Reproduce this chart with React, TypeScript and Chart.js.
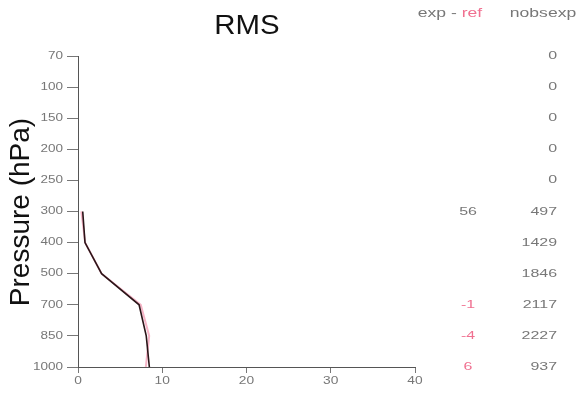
import React, { useEffect, useRef } from "react";
import { Chart, registerables } from "chart.js";

Chart.register(...registerables);

const levels = ["70", "100", "150", "200", "250", "300", "400", "500", "700", "850", "1000"];
const expLevels = ["300", "400", "500", "700", "850", "1000"];
const expValues = [0.56, 0.83, 2.8, 7.25, 8.1, 8.47];
const refValues = [0.4, 0.85, 2.8, 7.45, 8.45, 8.05];
const diffLabels = ["", "", "", "", "", "56", "", "", "-1", "-4", "6"];
const diffPink = [false, false, false, false, false, false, false, false, true, true, true];
const nobsLabels = ["0", "0", "0", "0", "0", "497", "1429", "1846", "2117", "2227", "937"];
const xTicks = [0, 10, 20, 30, 40];

const FONT = "'Liberation Sans', Arial, sans-serif";
const GRAY = "#777";
const PINK = "#f07090";

function drawText(ctx: CanvasRenderingContext2D, text: string, x: number, y: number, align: CanvasTextAlign, sx: number) {
  ctx.save();
  ctx.translate(x, y);
  ctx.scale(sx, 1);
  ctx.textAlign = align;
  ctx.textBaseline = "middle";
  ctx.fillText(text, 0, 0);
  ctx.restore();
}

export default function App() {
  const ref = useRef<HTMLCanvasElement | null>(null);
  useEffect(() => {
    if (!ref.current) return;
    const idx = (l: string) => levels.indexOf(l);
    const overlay = {
      id: "overlay",
      afterDraw(chart: any) {
        const ctx = chart.ctx as CanvasRenderingContext2D;
        const ys = chart.scales.y;
        const xs = chart.scales.x;
        ctx.save();
        ctx.fillStyle = "#111";
        ctx.font = `28px ${FONT}`;
        drawText(ctx, "RMS", 247, 26, "center", 1.05);
        // y title
        ctx.save();
        ctx.translate(21, 212);
        ctx.rotate(-Math.PI / 2);
        ctx.font = `28px ${FONT}`;
        ctx.textAlign = "center";
        ctx.textBaseline = "middle";
        ctx.fillText("Pressure (hPa)", 0, 0);
        ctx.restore();
        // headers
        const HS = 1.35;
        ctx.font = `13px ${FONT}`;
        const w1 = ctx.measureText("exp - ").width * HS;
        const w2 = ctx.measureText("ref").width * HS;
        const sx = 450 - (w1 + w2) / 2;
        ctx.fillStyle = GRAY;
        drawText(ctx, "exp - ", sx, 13, "left", HS);
        ctx.fillStyle = PINK;
        drawText(ctx, "ref", sx + w1, 13, "left", HS);
        ctx.fillStyle = GRAY;
        drawText(ctx, "nobsexp", 543, 13, "center", HS);
        // columns
        ctx.font = `11px ${FONT}`;
        levels.forEach((l, i) => {
          const y = ys.getPixelForValue(i);
          if (diffLabels[i]) {
            ctx.fillStyle = diffPink[i] ? PINK : GRAY;
            drawText(ctx, diffLabels[i], 468, y, "center", 1.45);
          }
          ctx.fillStyle = GRAY;
          drawText(ctx, nobsLabels[i], 557, y, "right", 1.45);
        });
        // y tick labels
        ctx.font = `10px ${FONT}`;
        ctx.fillStyle = GRAY;
        levels.forEach((l, i) => {
          drawText(ctx, l, 63, ys.getPixelForValue(i), "right", 1.35);
        });
        // x tick labels
        ctx.font = `11px ${FONT}`;
        xTicks.forEach((v) => {
          drawText(ctx, String(v), xs.getPixelForValue(v), 381, "center", 1.25);
        });
        ctx.restore();
      },
    };
    const chart = new Chart(ref.current, {
      type: "line",
      data: {
        datasets: [
          {
            label: "exp",
            data: expLevels.map((l, i) => ({ x: expValues[i], y: idx(l) })),
            borderColor: "#2a1518",
            borderWidth: 1.6,
            pointRadius: 0,
            tension: 0,
            order: 0,
          },
          {
            label: "ref",
            data: expLevels.map((l, i) => ({ x: refValues[i], y: idx(l) })),
            borderColor: "rgba(240,130,160,0.6)",
            borderWidth: 2,
            pointRadius: 0,
            tension: 0,
            order: 1,
          },
        ],
      },
      options: {
        animation: false,
        responsive: false,
        maintainAspectRatio: false,
        layout: { padding: { left: 38, right: 166, top: 56, bottom: 0 } },
        plugins: { legend: { display: false }, tooltip: { enabled: false }, title: { display: false } },
        scales: {
          x: {
            type: "linear",
            min: 0,
            max: 40,
            afterBuildTicks: (s: any) => {
              s.ticks = xTicks.map((v) => ({ value: v }));
            },
            afterFit: (s: any) => {
              s.height = 28;
            },
            ticks: { display: false },
            grid: { drawOnChartArea: false, drawTicks: true, tickLength: 6, color: GRAY },
            border: { display: true, color: "#555", width: 1 },
          },
          y: {
            type: "linear",
            min: 0,
            max: levels.length - 1,
            reverse: true,
            afterBuildTicks: (s: any) => {
              s.ticks = levels.map((_, i) => ({ value: i }));
            },
            afterFit: (s: any) => {
              s.width = 40;
            },
            ticks: { display: false },
            grid: { drawOnChartArea: false, drawTicks: true, tickLength: 11, color: GRAY },
            border: { display: true, color: "#555", width: 1 },
          },
        },
      },
      plugins: [overlay],
    });
    return () => chart.destroy();
  }, []);
  return (
    <div style={{ position: "fixed", left: 0, top: 0, width: 581, height: 395, background: "#fff" }}>
      <canvas ref={ref} width={581} height={395} style={{ width: 581, height: 395 }} />
    </div>
  );
}
